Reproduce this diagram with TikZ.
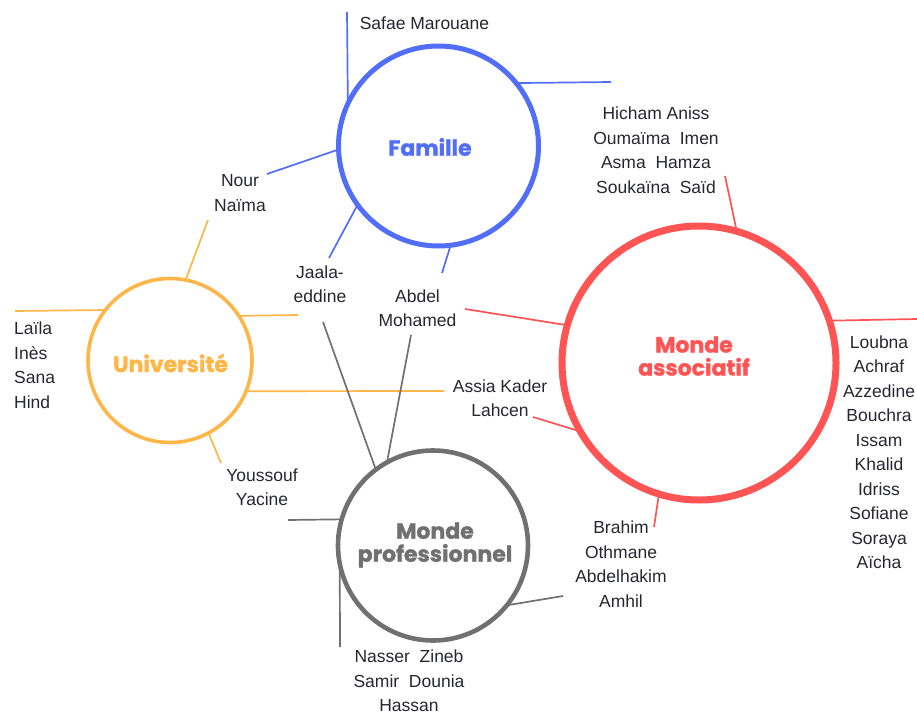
\documentclass[tikz,border=0pt]{standalone}
\usepackage{fontspec}
\setmainfont{Liberation Sans}
\newfontfamily\headfont{Poppins}[BoldFeatures={FakeBold=1.4}]
\definecolor{famblue}{RGB}{82,110,248}
\definecolor{uniorange}{RGB}{255,182,72}
\definecolor{assored}{RGB}{255,84,84}
\definecolor{progray}{RGB}{112,112,112}
\definecolor{namecol}{RGB}{38,38,48}
\begin{document}
\begin{tikzpicture}[x=1pt,y=-1pt,line cap=butt,
  names/.style={align=center,text=namecol,inner sep=0pt,font=\fontsize{17.5}{24.5}\selectfont},
  pole/.style={circle,draw=#1,outer sep=0pt,inner sep=0pt},
  title/.style={align=center,text=#1,inner sep=0pt,font=\headfont\bfseries\fontsize{22}{23}\selectfont},
  link/.style={draw=#1,line width=1.7pt}]
\useasboundingbox (0,0) rectangle (917,714);
% the four circles
\node[pole=famblue,line width=5pt,minimum size=200pt] (fam) at (438.5,146) {};
\node[pole=uniorange,line width=3.6pt,minimum size=164pt] (uni) at (170,360.5) {};
\node[pole=assored,line width=7pt,minimum size=274pt] (asso) at (699,363) {};
\node[pole=progray,line width=4.6pt,minimum size=190pt] (pro) at (433,545.5) {};
\node[title=famblue] (famt) at (430,147) {Famille};
\node[title=uniorange] (unit) at (170.5,363) {Université};
\node[title=assored] (assot) at (694,356) {Monde\\associatif};
\node[title=progray] (prot) at (435,545) {Monde\\professionnel};
% the names
\node[names] (safae) at (424.5,23) {Safae Marouane};
\node[names] (hicham) at (656,150) {Hicham Aniss\\Oumaïma~ Imen\\Asma~ Hamza\\Soukaïna~ Saïd};
\node[names] (nour) at (240,193) {Nour\\Naïma};
\node[names] (jaala) at (320,284) {Jaala-\\eddine};
\node[names] (abdel) at (417.5,308) {Abdel\\Mohamed};
\node[names,align=left,anchor=west] (laila) at (14,365) {Laïla\\Inès\\Sana\\Hind};
\node[names] (assia) at (500,398) {Assia Kader\\Lahcen};
\node[names] (youssouf) at (262,487) {Youssouf\\Yacine};
\node[names] (brahim) at (621,564) {Brahim\\Othmane\\Abdelhakim\\Amhil};
\node[names] (nasser) at (409,681) {Nasser~ Zineb\\Samir~ Dounia\\Hassan};
\node[names] (loubna) at (879,452) {Loubna\\Achraf\\Azzedine\\Bouchra\\Issam\\Khalid\\Idriss\\Sofiane\\Soraya\\Aïcha};
% free ends of the lines
\coordinate (fa1) at (347,12);
\coordinate (fa2) at (611,82);
\coordinate (fa3) at (267,174);
\coordinate (fa4) at (329,258);
\coordinate (fa5) at (442,273);
\coordinate (un1) at (208,220);
\coordinate (un2) at (15,311);
\coordinate (un3) at (298,315);
\coordinate (un4) at (444,391);
\coordinate (un5) at (221,463);
\coordinate (as1) at (725,176);
\coordinate (as2) at (465,309);
\coordinate (as3) at (917,319);
\coordinate (as4) at (533,417);
\coordinate (as5) at (654,527);
\coordinate (pr1) at (323,322);
\coordinate (pr2) at (411,335);
\coordinate (pr3) at (288,520);
\coordinate (pr4) at (340,647);
\coordinate (pr5) at (563,596);
\foreach \a/\e in {155.5/fa1,39.8/fa2,182/fa3,216.3/fa4,277.9/fa5}
  \draw[link=famblue] (fam.\a) -- (\e);
\foreach \a/\e in {79/un1,142.9/un2,33.7/un3,338.2/un4,298.3/un5}
  \draw[link=uniorange] (uni.\a) -- (\e);
\foreach \a/\e in {74.5/as1,164.9/as2,18.7/as3,210.3/as4,253.5/as5}
  \draw[link=assored] (asso.\a) -- (\e);
\foreach \a/\e in {127.7/pr1,119.9/pr2,164.4/pr3,191.8/pr4,321.6/pr5}
  \draw[link=progray] (pro.\a) -- (\e);
\end{tikzpicture}
\end{document}
